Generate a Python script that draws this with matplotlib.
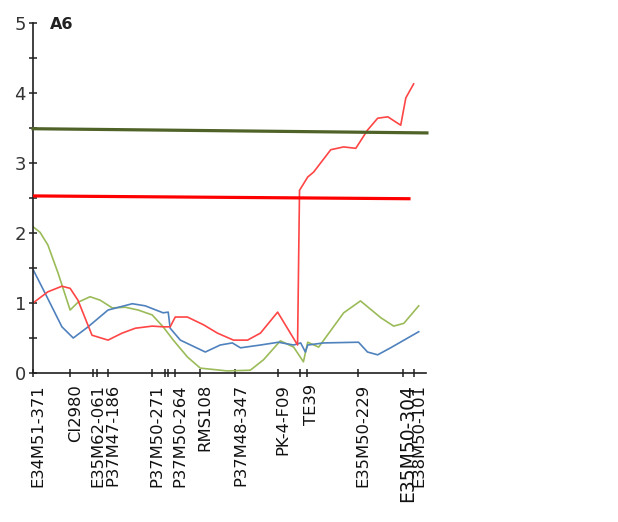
import matplotlib
matplotlib.use('Agg')

import matplotlib.pyplot as plt
import matplotlib.transforms as mtransforms

# marker positions along the linkage group (cM) and their names
marker_pos = [0, 9.5, 15.4, 19.2, 30.5, 36.4, 42.8, 51.8, 62.6, 70.0, 83.1, 94.6, 97.4]
marker_names = ["E34M51-371", "CI2980", "E35M62-061", "P37M47-186", "P37M50-271",
                "P37M50-264", "RMS108", "P37M48-347", "PK-4-F09", "TE39",
                "E35M50-229", "E35M50-304", "E38M50-101"]
extra_ticks = [16.4, 33.8, 34.6, 68.2]

# LOD profiles
red_x = [0, 3.8, 7.4, 9.5, 11.5, 15.1, 19.2, 22.8, 26.2, 30.5, 33.3, 35.1, 36.4, 39.5,
         43.6, 47.2, 51.3, 54.9, 58.2, 62.6, 67.7, 68.2, 70.3, 71.8, 76.2, 79.5, 82.6,
         85.6, 88.2, 90.8, 94.1, 95.4, 97.4]
red_y = [1.0, 1.16, 1.24, 1.21, 1.04, 0.54, 0.47, 0.57, 0.64, 0.67, 0.66, 0.66, 0.8, 0.8,
         0.69, 0.57, 0.47, 0.47, 0.57, 0.87, 0.4, 2.61, 2.8, 2.87, 3.19, 3.23, 3.21,
         3.47, 3.64, 3.66, 3.54, 3.93, 4.13]

blue_x = [0, 3.1, 7.4, 10.3, 14.1, 19.2, 25.4, 28.7, 33.3, 34.6, 35.1, 37.7, 44.1, 47.9,
          51.0, 53.1, 58.2, 62.8, 66.7, 68.5, 69.7, 70.3, 74.4, 83.3, 85.6, 88.2, 91.5, 98.7]
blue_y = [1.48, 1.14, 0.66, 0.5, 0.66, 0.9, 0.99, 0.96, 0.86, 0.87, 0.64, 0.47, 0.3, 0.4,
          0.43, 0.36, 0.4, 0.44, 0.4, 0.43, 0.3, 0.4, 0.43, 0.44, 0.3, 0.26, 0.36, 0.59]

green_x = [0, 1.8, 3.8, 6.4, 9.5, 11.5, 14.6, 17.2, 20.3, 23.6, 26.9, 30.5, 33.3, 35.9,
           39.5, 42.8, 49.7, 55.6, 59.0, 63.3, 66.7, 69.2, 70.3, 73.1, 79.5, 83.8, 89.0,
           92.3, 94.9, 98.7]
green_y = [2.09, 2.01, 1.83, 1.43, 0.9, 1.01, 1.09, 1.04, 0.93, 0.94, 0.9, 0.83, 0.66, 0.47,
           0.23, 0.07, 0.03, 0.04, 0.19, 0.46, 0.37, 0.16, 0.44, 0.37, 0.86, 1.03, 0.79,
           0.67, 0.71, 0.96]

# significance thresholds
thr_green_x = [0, 100.8]
thr_green_y = [3.49, 3.43]
thr_red_x = [0, 96.2]
thr_red_y = [2.53, 2.49]

fig = plt.figure(figsize=(6.18, 5.22), dpi=100)
ax = fig.add_axes([0.0534, 0.2854, 0.6355, 0.6705])

ax.plot(thr_green_x, thr_green_y, color="#4f6228", lw=2.3, clip_on=False, zorder=3)
ax.plot(thr_red_x, thr_red_y, color="#ff0000", lw=2.3, zorder=3)
ax.plot(green_x, green_y, color="#9bbb59", lw=1.2)
ax.plot(blue_x, blue_y, color="#4f81bd", lw=1.2)
ax.plot(red_x, red_y, color="#ff4545", lw=1.2)

ax.set_xlim(0, 100.5)
ax.set_ylim(0, 5)
for s in ("top", "right"):
    ax.spines[s].set_visible(False)
for s in ("left", "bottom"):
    ax.spines[s].set_color("#202020")
    ax.spines[s].set_linewidth(1.2)

ax.set_yticks([0, 1, 2, 3, 4, 5])
ax.set_yticks([0.5, 1.5, 2.5, 3.5, 4.5], minor=True)
ax.set_xticks(marker_pos)
ax.set_xticklabels(marker_names, rotation=90)
ax.set_xticks(extra_ticks, minor=True)
ax.tick_params(axis="both", which="both", direction="inout", length=6, width=1.1,
               color="#202020")
ax.tick_params(axis="y", labelsize=13, pad=2, labelcolor="#333333")
ax.tick_params(axis="x", labelsize=11.8, pad=5, labelcolor="#111111")

shift = mtransforms.ScaledTranslation(5 / 100, 0, fig.dpi_scale_trans)
for lab in ax.get_xticklabels():
    lab.set_transform(lab.get_transform() + shift)
    if lab.get_text() == "E35M50-304":
        lab.set_fontsize(13.5)

fig.text(50 / 618, 1 - 29 / 522, "A6", fontsize=11.5, fontweight="bold", color="#222222")

plt.savefig("out.png", dpi=100)
plt.close()
